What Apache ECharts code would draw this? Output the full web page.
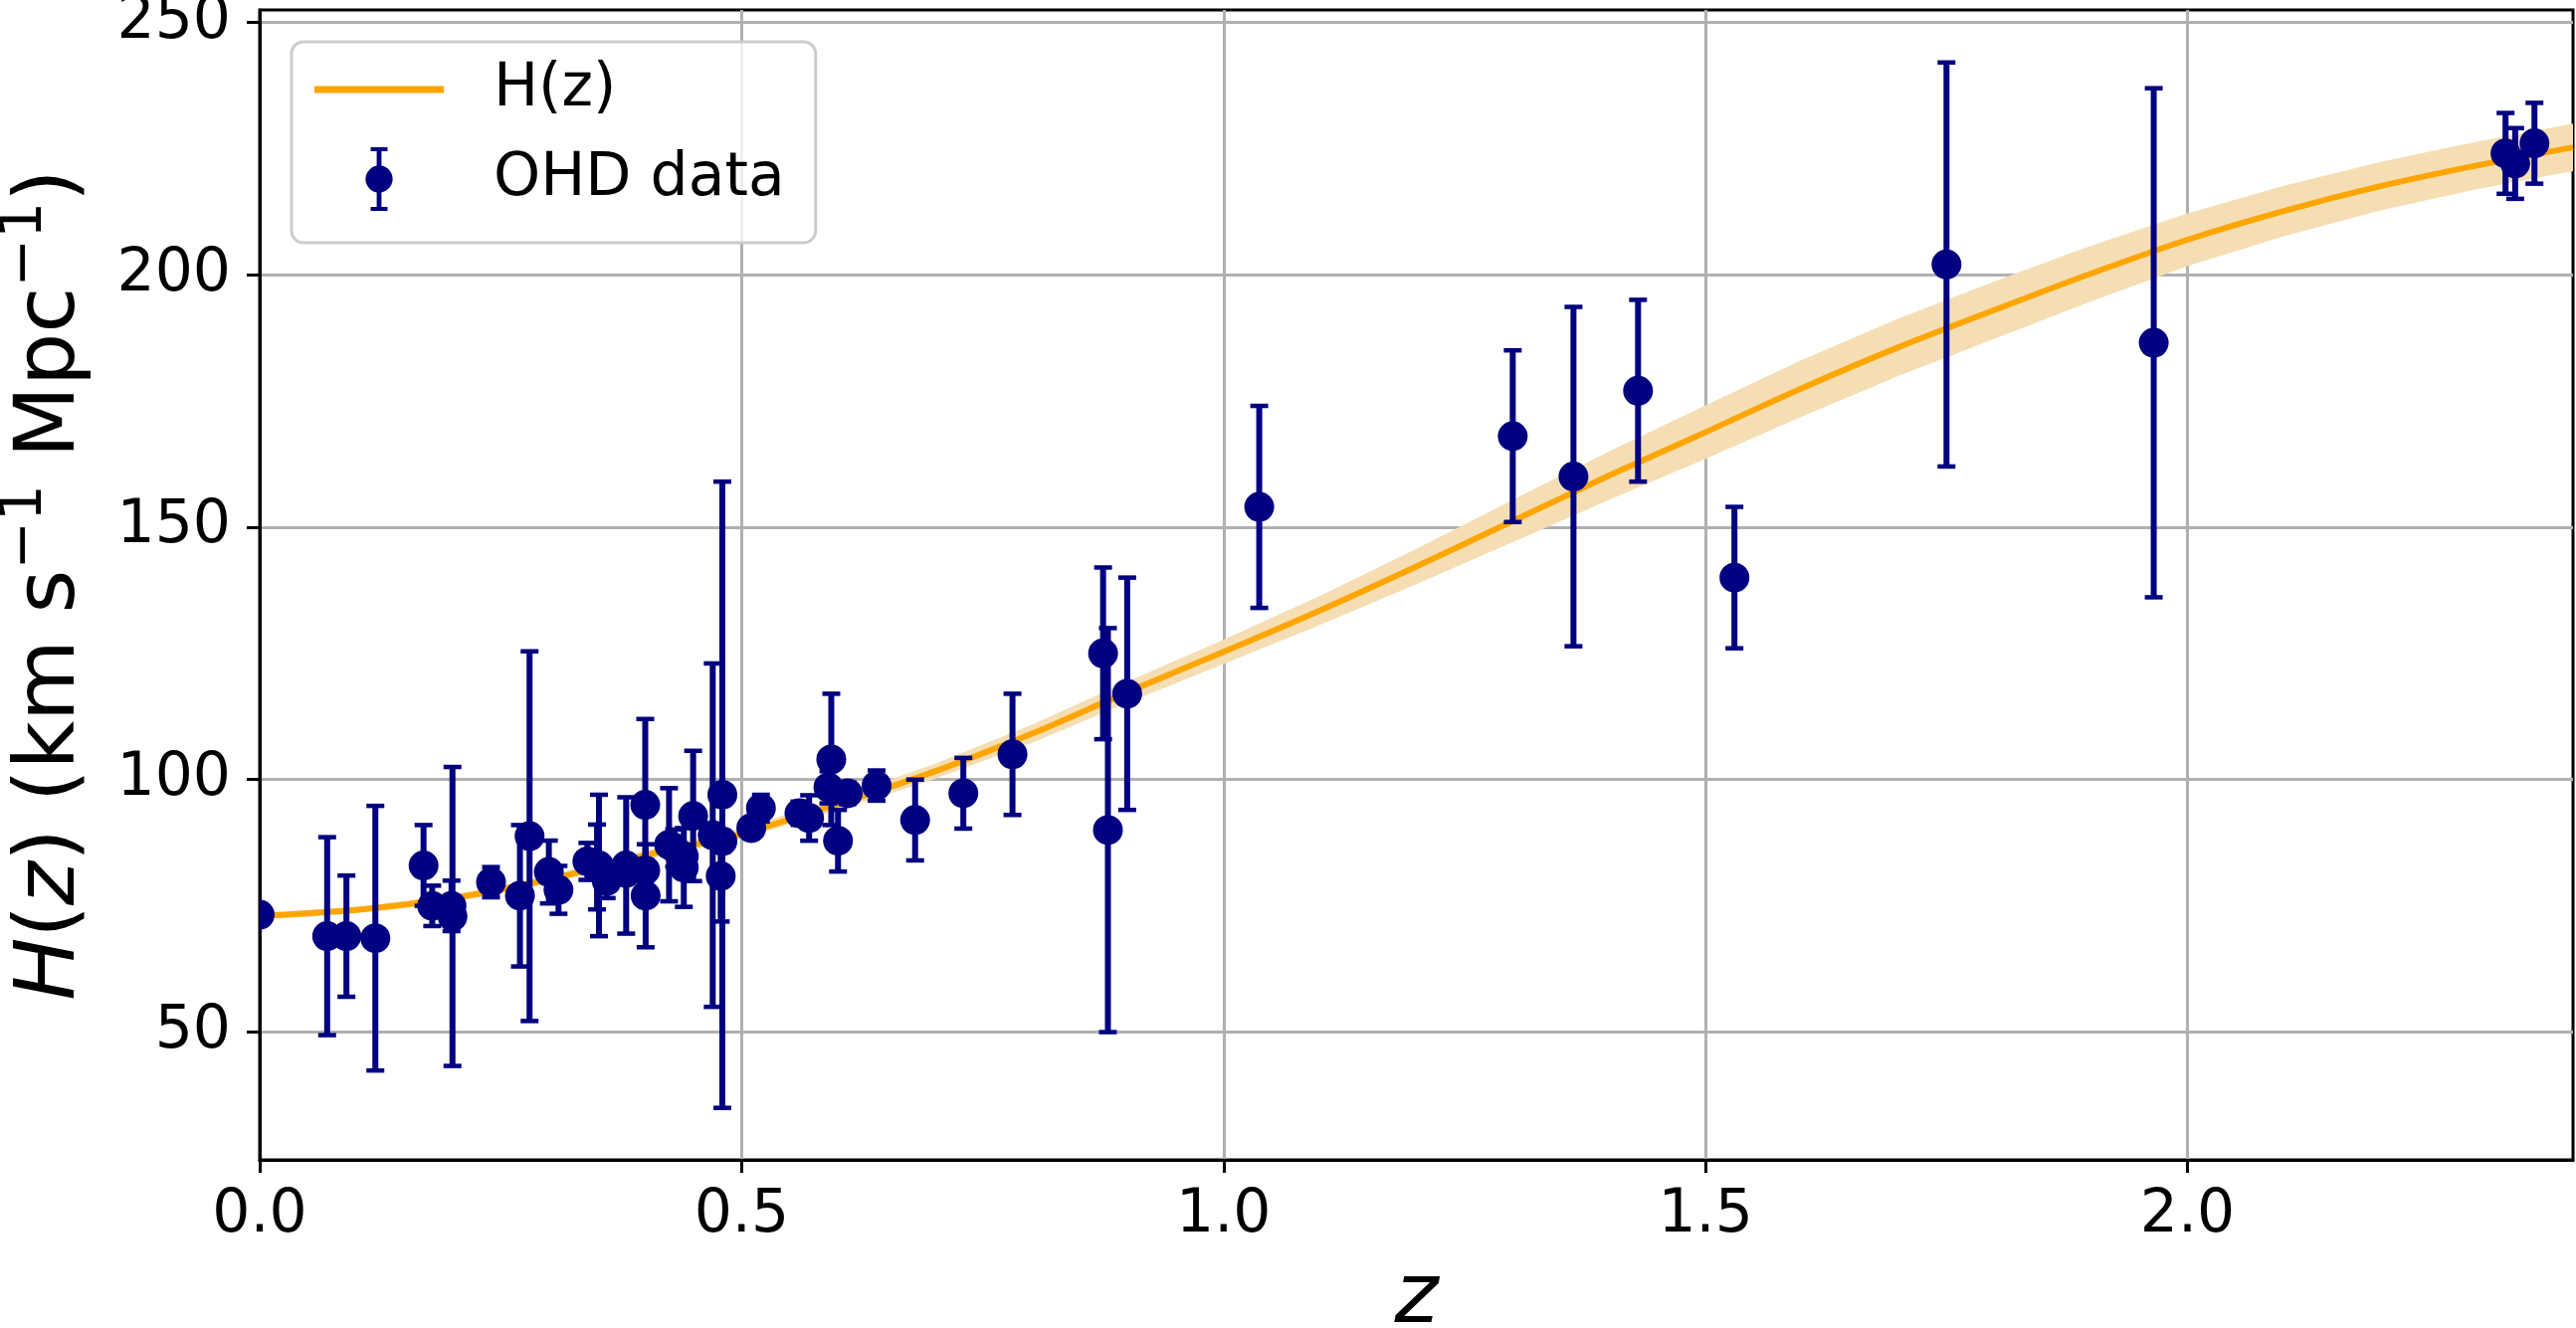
<!DOCTYPE html>
<html>
<head>
<meta charset="utf-8">
<title>H(z) OHD</title>
<script src="https://cdn.jsdelivr.net/npm/echarts@6/dist/echarts.min.js"></script>
<style>
  html, body { margin: 0; padding: 0; background: #fff; }
  #main { width: 2589px; height: 1335px; }
</style>
</head>
<body>
<div id="main"></div>
<script>
// OHD points: redshift, H(z), 1 sigma error
var ohdZ = [0.0, 0.07, 0.09, 0.12, 0.17, 0.179, 0.199, 0.2, 0.24, 0.27, 0.28, 0.30, 0.31, 0.34, 0.35,
  0.352, 0.36, 0.38, 0.3802, 0.4, 0.40, 0.4004, 0.4247, 0.43, 0.44, 0.44, 0.4497, 0.47, 0.4783, 0.48,
  0.48, 0.51, 0.52, 0.56, 0.57, 0.59, 0.593, 0.60, 0.61, 0.64, 0.68, 0.73, 0.781, 0.875, 0.88,
  0.9, 1.037, 1.3, 1.363, 1.43, 1.53, 1.75, 1.965, 2.33, 2.34, 2.36]
var ohdH = [73.24, 69, 69, 68.6, 83, 75, 75, 72.9, 79.69, 77, 88.8, 81.7, 78.17, 83.8, 82.7,
  83, 79.93, 81.5, 83, 95, 82.04, 77, 87.1, 86.45, 82.6, 84.81, 92.8, 89, 80.9, 97,
  87.79, 90.4, 94.35, 93.34, 92.4, 98.48, 104, 87.9, 97.3, 98.82, 92, 97.3, 105, 125, 90,
  117, 154, 168, 160, 177, 140, 202, 186.5, 224, 222, 226]
var ohdErr = [1.74, 19.6, 12, 26.2, 8, 4, 5, 29.6, 2.99, 14, 36.6, 6.22, 4.74, 3.66, 8.4,
  14, 3.39, 1.9, 13.5, 17, 2.03, 10.2, 11.2, 3.68, 7.8, 1.83, 12.9, 34, 9, 62,
  2.03, 1.9, 2.64, 2.3, 4.5, 3.18, 13, 6.1, 2.1, 2.99, 8, 7, 12, 17, 40,
  23, 20, 17, 33.6, 18, 14, 40, 50.4, 8, 7, 8]

// reconstructed H(z), with half width of the shaded band
var curveZ = [0.0, 0.1, 0.2, 0.3, 0.4, 0.5, 0.6, 0.7, 0.8, 0.9, 1.0, 1.1, 1.2,
  1.3, 1.4, 1.5, 1.6, 1.7, 1.8, 1.9, 2.0, 2.1, 2.2, 2.3, 2.4]
var curveH = [73.0, 74.2, 76.5, 80.2, 85.0, 89.3, 95.2, 101.6, 109.0, 117.3, 125.3, 133.5, 142.2,
  151.2, 160.2, 168.8, 177.5, 185.6, 193.0, 200.2, 206.9, 212.6, 217.5, 221.6, 225.2]
var curveSig = [0.6, 0.6, 0.7, 0.8, 0.9, 1.0, 1.2, 1.5, 1.8, 2.1, 2.4, 2.9, 3.5,
  4.2, 4.8, 5.3, 5.6, 5.7, 5.7, 5.5, 5.2, 5.0, 4.8, 4.7, 4.7]

var xTicks = [0.0, 0.5, 1.0, 1.5, 2.0]
var yTicks = [50, 100, 150, 200, 250]

var obj = {

  chart: null,
  font: 'DejaVu Sans',
  navy: '#000080',

  // errorbar glyph for the legend (cap, stem, dot, stem, cap)
  errIcon: 'path://M3.2,0H13.8V2.5H10V11.633A8.5,8.5 0 0,1 10,28.367V37.5H13.8V40H3.2V37.5H7V28.367A8.5,8.5 0 0,1 7,11.633V2.5H3.2Z',

  buildData: function () {
    let d = { band: [], line: [], err: [], dots: [] }
    for (let i = 0; i < curveZ.length; i++) {
      d.band.push([curveZ[i], curveH[i] - curveSig[i], curveH[i] + curveSig[i]])
      d.line.push([curveZ[i], curveH[i]])
    }
    for (let i = 0; i < ohdZ.length; i++) {
      d.err.push([ohdZ[i], ohdH[i] - ohdErr[i], ohdH[i] + ohdErr[i]])
      d.dots.push([ohdZ[i], ohdH[i]])
    }
    return d
  },

  // whole shaded band as one polygon, drawn with the first item
  renderBand: function (params, api) {
    if (params.dataIndex !== 0) return null
    let pts = []
    for (let i = 0; i < curveZ.length; i++) {
      pts.push(api.coord([curveZ[i], curveH[i] + curveSig[i]]))
    }
    for (let i = curveZ.length - 1; i >= 0; i--) {
      pts.push(api.coord([curveZ[i], curveH[i] - curveSig[i]]))
    }
    return {
      type: 'polygon',
      shape: { points: pts },
      style: { fill: '#f5deb3', stroke: null }
    }
  },

  renderErr: function (params, api) {
    let top = api.coord([api.value(0), api.value(2)])
    let bot = api.coord([api.value(0), api.value(1)])
    let cw = 9
    let st = { stroke: obj.navy, lineWidth: 4.5 }
    return {
      type: 'group',
      children: [
        { type: 'line', shape: { x1: top[0], y1: top[1], x2: bot[0], y2: bot[1] }, style: { stroke: obj.navy, lineWidth: 6 } },
        { type: 'line', shape: { x1: top[0] - cw, y1: top[1], x2: top[0] + cw, y2: top[1] }, style: st },
        { type: 'line', shape: { x1: bot[0] - cw, y1: bot[1], x2: bot[0] + cw, y2: bot[1] }, style: st }
      ]
    }
  },

  renderDot: function (params, api) {
    let p = api.coord([api.value(0), api.value(1)])
    return {
      type: 'circle',
      shape: { cx: p[0], cy: p[1], r: 15 },
      style: { fill: obj.navy }
    }
  },

  initChart: function () {
    let that = this
    let data = that.buildData()
    that.chart = echarts.init(document.getElementById('main'))

    let option = {
      animation: false,
      backgroundColor: '#fff',
      grid: {
        left: 261, right: 3, top: 10, bottom: 169,
        outerBoundsMode: 'none', containLabel: false,
        show: true, borderColor: '#000', borderWidth: 3
      },
      legend: {
        left: 293, top: 42,
        orient: 'vertical',
        selectedMode: false,
        itemWidth: 130, itemHeight: 64, itemGap: 28,
        padding: [18, 31, 32, 23],
        backgroundColor: 'rgba(255,255,255,0.8)',
        borderColor: '#cccccc', borderWidth: 3, borderRadius: 12,
        data: [
          { name: 'H(z)', icon: 'path://M0,0H130V7H0Z' },
          { name: 'OHD data', icon: that.errIcon }
        ],
        formatter: function (name) {
          return '{g| }' + name
        },
        textStyle: {
          fontFamily: that.font, fontSize: 60, color: '#000',
          rich: { g: { width: 45 } }
        }
      },
      xAxis: {
        type: 'value', min: 0, max: 2.4, interval: 0.5,
        name: 'z', nameLocation: 'middle', nameGap: 99,
        nameTextStyle: { fontFamily: that.font, fontSize: 84, fontStyle: 'italic', color: '#000' },
        axisLine: { show: true, onZero: false, lineStyle: { color: '#000', width: 3 } },
        axisTick: { show: true, length: 13, customValues: xTicks, lineStyle: { color: '#000', width: 3 } },
        axisLabel: {
          fontFamily: that.font, fontSize: 60, color: '#000', margin: 26,
          customValues: xTicks,
          formatter: function (v) {
            let ok = xTicks.some(function (t) { return Math.abs(t - v) < 1e-9 })
            return ok ? v.toFixed(1) : ''
          }
        },
        splitLine: { show: true, lineStyle: { color: '#b0b0b0', width: 3 } }
      },
      yAxis: {
        type: 'value', min: 24.7, max: 252.4, splitNumber: 5,
        name: '{i|H}{n|(}{i|z}{n|) (km s}{s|−1}{n| Mpc}{s|−1}{n|)}',
        nameLocation: 'middle', nameRotate: 90, nameGap: 154,
        nameTextStyle: {
          fontFamily: that.font, fontSize: 84, color: '#000',
          rich: {
            n: { fontFamily: that.font, fontSize: 84, lineHeight: 110, verticalAlign: 'middle', color: '#000' },
            i: { fontFamily: that.font, fontSize: 84, lineHeight: 110, verticalAlign: 'middle', fontStyle: 'italic', color: '#000' },
            s: { fontFamily: that.font, fontSize: 58, lineHeight: 60, verticalAlign: 'top', color: '#000' }
          }
        },
        axisLine: { show: true, onZero: false, lineStyle: { color: '#000', width: 3 } },
        axisTick: { show: true, length: 13, customValues: yTicks, lineStyle: { color: '#000', width: 3 } },
        axisLabel: {
          fontFamily: that.font, fontSize: 60, color: '#000', margin: 29,
          customValues: yTicks,
          formatter: function (v) {
            return yTicks.indexOf(v) >= 0 ? String(v) : ''
          }
        },
        splitLine: { show: true, lineStyle: { color: '#b0b0b0', width: 3 } }
      },
      series: [
        {
          type: 'custom', data: data.band, renderItem: that.renderBand,
          encode: { x: 0, y: [1, 2] }, clip: true, silent: true, z: 1
        },
        {
          name: 'H(z)', type: 'line', data: data.line, smooth: 0.3, symbol: 'none',
          lineStyle: { color: '#ffa500', width: 6 }, itemStyle: { color: '#ffa500' }, z: 2
        },
        {
          name: 'OHD data', type: 'custom', data: data.err,
          renderItem: that.renderErr,
          encode: { x: 0, y: [1, 2] }, clip: true,
          itemStyle: { color: that.navy }, z: 3
        },
        {
          name: 'OHD data', type: 'custom', data: data.dots,
          renderItem: that.renderDot,
          encode: { x: 0, y: 1 }, clip: true,
          itemStyle: { color: that.navy }, z: 4
        }
      ]
    }

    that.chart.setOption(option, true)
  },

  init: function () {
    this.initChart()
  }
}

obj.init()
</script>
</body>
</html>
